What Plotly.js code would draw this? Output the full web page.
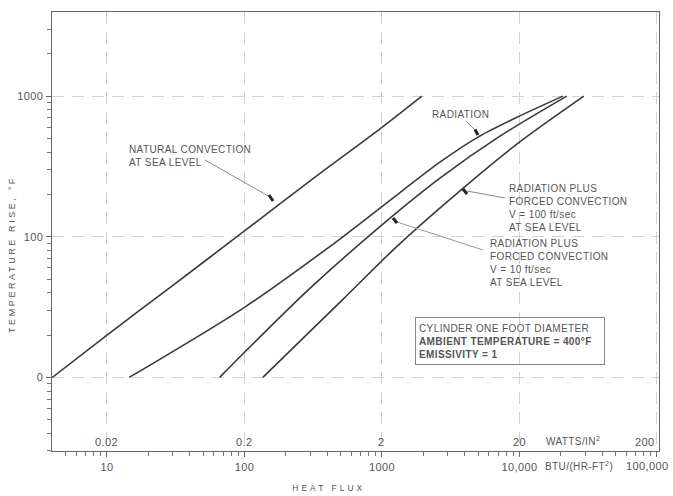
<!DOCTYPE html>
<html><head><meta charset="utf-8">
<script src="https://cdn.plot.ly/plotly-3.0.1.min.js"></script>
<style>
html,body{margin:0;padding:0;background:#fff;}
#chart{width:673px;height:496px;}
svg text{letter-spacing:0.4px;}
</style></head><body><div id="chart"></div>
<script>
// ---- data (heat flux in BTU/(HR-FT^2), temperature rise in °F) ----
const naturalFlux   = [4, 10, 30, 100, 300, 1000, 1950];
const naturalRise   = [10, 20, 45, 110, 250, 600, 1000];
const radiationFlux = [14.5, 100, 520, 1420, 2640, 4990, 10000, 20700];
const radiationRise = [10, 31.5, 100, 214, 339, 511, 721, 1000];
const forced10Flux  = [66, 100, 299, 1016, 2640, 7210, 22100];
const forced10Rise  = [10, 15.1, 43, 123, 261, 519, 1000];
const forced100Flux = [136, 520, 1285, 3880, 10000, 29400];
const forced100Rise = [10, 35.9, 85.5, 221, 471, 1000];
const btuTicks   = [10, 100, 1000, 10000, 100000];
const btuLabels  = ['10', '100', '1000', '10,000', '100,000'];
const wattLabels = ['0.02', '0.2', '2', '20', '200'];
const riseTicks  = [10, 100, 1000];
const riseLabels = ['0', '100', '1000'];

// ---- layout helpers ----
const PL = 52, PR = 659, PT = 12, PB = 451;
const xp = px => (px - PL) / (PR - PL);
const yp = py => (PB - py) / (PB - PT);
const FONT = 'Liberation Sans, Arial, sans-serif';
const TXT = '#555';
const CURVE = '#3a3a3a';
const last = btuTicks.length - 1;

function minorVals(lo, hi) {
  const v = [];
  for (let d = 1; d <= 100000; d *= 10)
    for (let m = 2; m <= 9; m++) { const t = m * d; if (t > lo && t < hi) v.push(t); }
  return v;
}

const curve = (x, y, name) => ({
  x: x, y: y, name: name, type: 'scatter', mode: 'lines',
  line: {color: CURVE, width: 1.6, shape: 'spline', smoothing: 0.8},
  hoverinfo: 'skip', showlegend: false
});

const traces = [
  curve(naturalFlux, naturalRise, 'Natural convection at sea level'),
  curve(radiationFlux, radiationRise, 'Radiation'),
  curve(forced10Flux, forced10Rise, 'Radiation plus forced convection V = 10 ft/sec'),
  curve(forced100Flux, forced100Rise, 'Radiation plus forced convection V = 100 ft/sec')
];

const f = (size, color) => ({family: FONT, size: size, color: color || TXT});
const ann = [];
// upper scale labels (watts/in^2)
btuTicks.forEach((v, i) => ann.push({
  x: Math.log10(v), xref: 'x', y: yp(442), yref: 'paper',
  text: wattLabels[i], showarrow: false, font: f(11),
  xanchor: i === last ? 'right' : 'center', yanchor: 'middle'
}));
// last lower-scale label kept inside the picture
ann.push({x: Math.log10(btuTicks[last]), xref: 'x', y: yp(466), yref: 'paper',
  text: btuLabels[last], showarrow: false, font: f(11), xanchor: 'right', xshift: 14, yanchor: 'middle'});
ann.push({x: xp(544), y: yp(441), xref: 'paper', yref: 'paper', text: 'WATTS/IN<sup>2</sup>',
  showarrow: false, font: f(10), xanchor: 'left', yanchor: 'middle'});
ann.push({x: xp(543), y: yp(466), xref: 'paper', yref: 'paper', text: 'BTU/(HR-FT<sup>2</sup>)',
  showarrow: false, font: f(10), xanchor: 'left', yanchor: 'middle'});
// axis titles
ann.push({x: xp(329), y: yp(488), xref: 'paper', yref: 'paper', text: 'HEAT FLUX',
  showarrow: false, font: f(8.5), xanchor: 'center', yanchor: 'middle'});
ann.push({x: xp(12), y: yp(255), xref: 'paper', yref: 'paper', text: 'TEMPERATURE RISE, °F',
  showarrow: false, font: f(9), textangle: -90, xanchor: 'center', yanchor: 'middle'});
// curve labels
const label = (px, py, text) => ({x: xp(px), y: yp(py), xref: 'paper', yref: 'paper', text: text,
  showarrow: false, font: f(10), xanchor: 'left', yanchor: 'top', align: 'left'});
ann.push(label(127, 142, 'NATURAL CONVECTION<br>AT SEA LEVEL'));
ann.push(label(430, 107, 'RADIATION'));
ann.push(label(507, 181, 'RADIATION PLUS<br>FORCED CONVECTION<br>V = 100 ft/sec<br>AT SEA LEVEL'));
ann.push(label(488, 236, 'RADIATION PLUS<br>FORCED CONVECTION<br>V = 10 ft/sec<br>AT SEA LEVEL'));
// note box
ann.push({x: xp(415), y: yp(317), xref: 'paper', yref: 'paper', xanchor: 'left', yanchor: 'top',
  text: 'CYLINDER ONE FOOT DIAMETER<br><b>AMBIENT TEMPERATURE = 400°F</b><br><b>EMISSIVITY = 1</b>',
  showarrow: false, align: 'left', font: f(10), bordercolor: '#888', borderwidth: 1,
  borderpad: 3, width: 182, height: 40, bgcolor: 'rgba(255,255,255,0)'});

// leader lines and their small markers on the curves
const seg = (x0, y0, x1, y1, color, width) => ({type: 'line', xref: 'paper', yref: 'paper',
  x0: xp(x0), y0: yp(y0), x1: xp(x1), y1: yp(y1), line: {color: color, width: width}});
const shapes = [
  seg(205, 160, 270, 197, '#888', 1), seg(273, 201, 269, 195, '#222', 3),
  seg(466, 121, 476, 131, '#888', 1), seg(478, 135, 475, 129.5, '#222', 3),
  seg(505, 198, 467, 191, '#888', 1), seg(463, 189, 467, 194, '#222', 3),
  seg(483, 250, 397, 222, '#999', 1), seg(393, 218, 397, 223, '#222', 3)
];

const axisBase = {
  type: 'log', showline: true, mirror: true, linecolor: '#666', linewidth: 1.4,
  ticks: 'outside', ticklen: 5, tickcolor: '#666', tickwidth: 1,
  showgrid: true, gridcolor: '#d2d2d2', gridwidth: 1, griddash: '12px,8px',
  zeroline: false, tickmode: 'array', tickfont: f(11), fixedrange: true
};

const layout = {
  width: 673, height: 496,
  margin: {l: PL, r: 673 - PR, t: PT, b: 496 - PB},
  paper_bgcolor: '#fff', plot_bgcolor: '#fff',
  showlegend: false,
  xaxis: Object.assign({}, axisBase, {
    range: [0.6, 5.015], tickvals: btuTicks,
    ticktext: btuLabels.map((t, i) => i === last ? ' ' : t),
    minor: {tickvals: minorVals(4, 100000), ticks: 'outside', ticklen: 4, tickcolor: '#777', showgrid: false}
  }),
  yaxis: Object.assign({}, axisBase, {
    range: [0.477, 3.598], tickvals: riseTicks, ticktext: riseLabels,
    minor: {tickvals: minorVals(2.9, 4000), ticks: 'outside', ticklen: 4, tickcolor: '#777', showgrid: false}
  }),
  annotations: ann,
  shapes: shapes
};

Plotly.newPlot('chart', traces, layout, {displayModeBar: false, staticPlot: true}).then(() => {
  document.querySelectorAll('.annotation-text').forEach(el => {
    const t = el.textContent;
    if (t === 'HEAT FLUX') el.style.letterSpacing = '3px';
    if (t.indexOf('TEMPERATURE RISE') === 0) el.style.letterSpacing = '2.6px';
  });
});
</script>
</body></html>
